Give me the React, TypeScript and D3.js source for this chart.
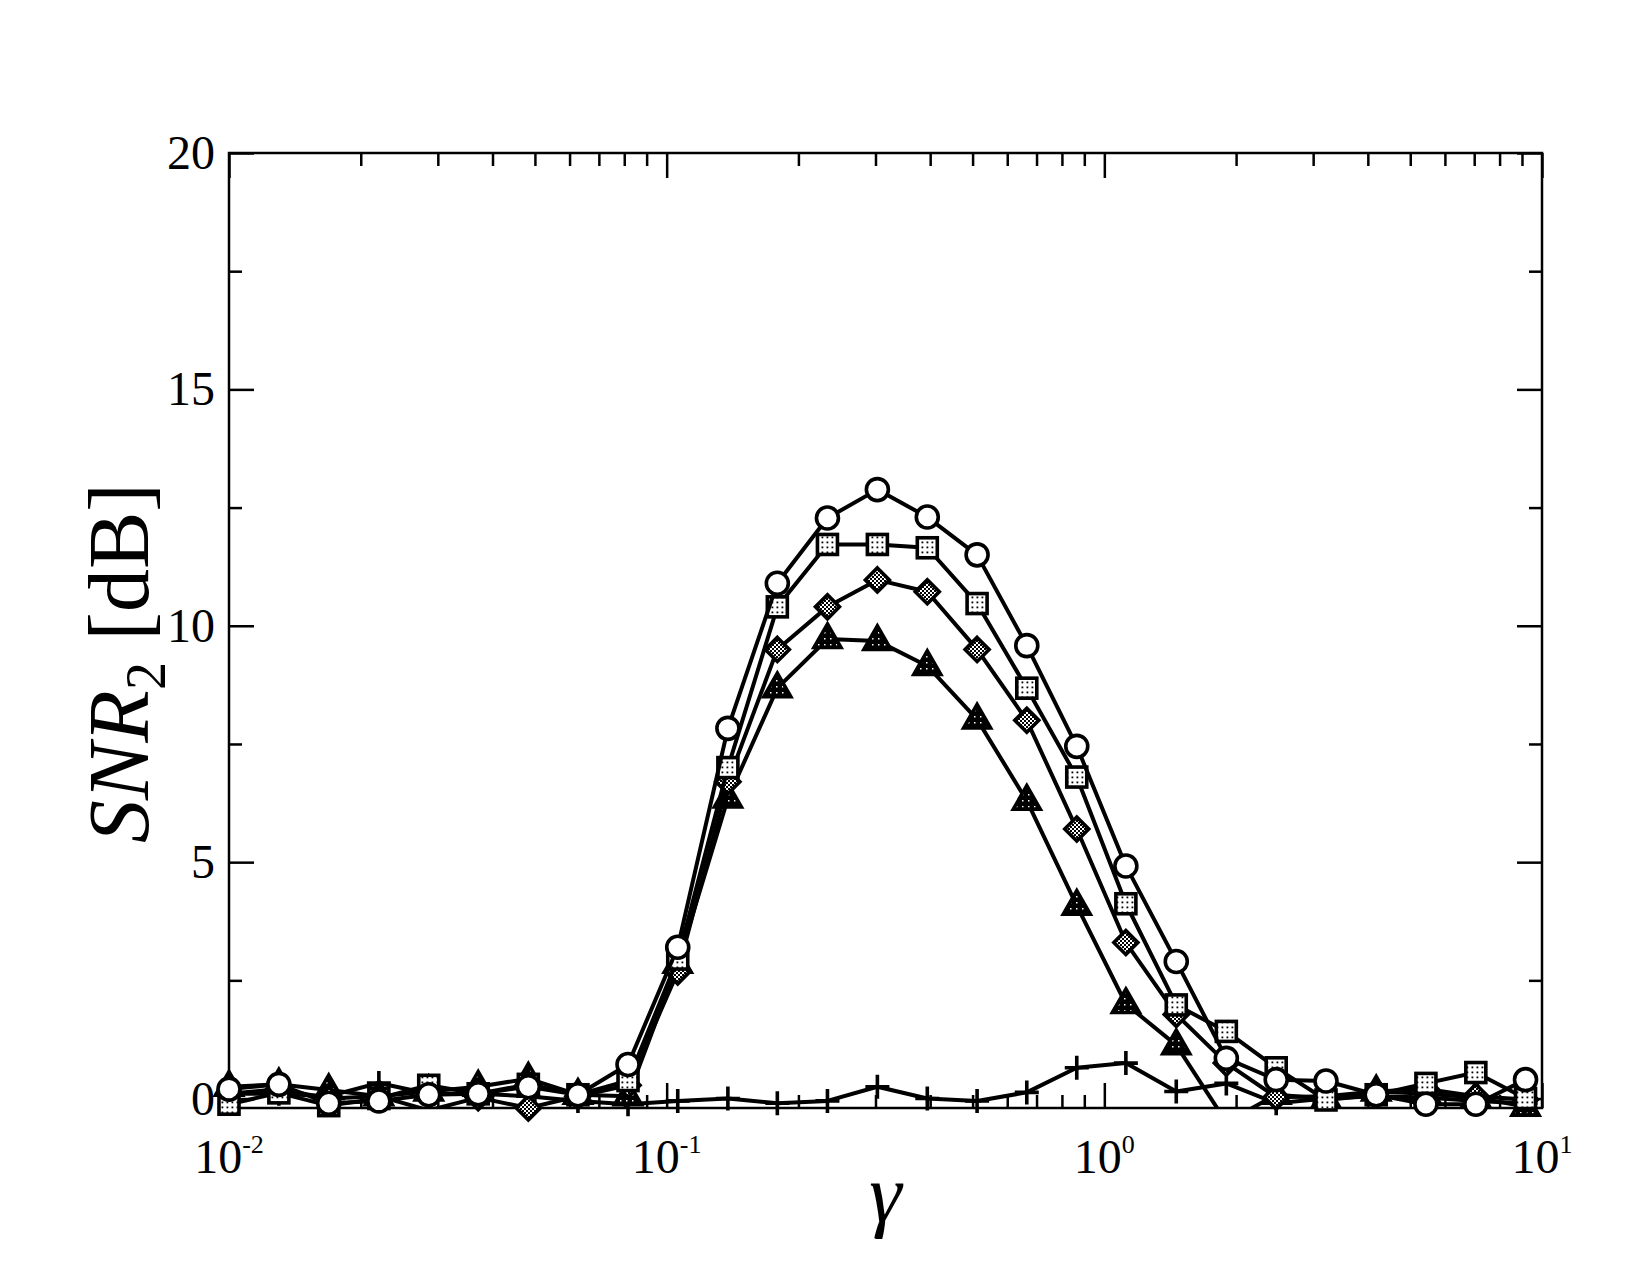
import React, { useRef, useEffect } from "react";
import * as d3 from "d3";

// gamma values on the x axis (log scale)
const gammaVals = [
  0.01, 0.013, 0.0169, 0.022, 0.0286, 0.0371, 0.0483, 0.0627, 0.0816, 0.106,
  0.138, 0.179, 0.233, 0.303, 0.394, 0.512, 0.665, 0.865, 1.12, 1.46, 1.9,
  2.47, 3.21, 4.18, 5.43, 7.06, 9.17,
];

// SNR_2 in dB, one array per curve
const circleVals = [
  0.2, 0.3, -0.1, -0.05, 0.08, 0.1, 0.25, 0.08, 0.72, 3.2, 7.83, 10.9, 12.28,
  12.88, 12.3, 11.5, 9.58, 7.45, 4.92, 2.9, 0.85, 0.4, 0.37, 0.08, -0.12,
  -0.12, 0.4,
];
const squareVals = [
  -0.12, 0.12, -0.15, 0.0, 0.28, 0.1, 0.3, 0.08, 0.38, 2.95, 7.0, 10.4, 11.72,
  11.72, 11.65, 10.47, 8.68, 6.8, 4.12, 1.98, 1.42, 0.65, -0.03, 0.08, 0.32,
  0.55, 0.0,
];
const diamondVals = [
  0.1, 0.2, 0.0, 0.05, -0.25, 0.02, -0.2, 0.05, 0.28, 2.68, 6.7, 9.5, 10.4,
  10.97, 10.72, 9.5, 8.0, 5.7, 3.3, 1.78, 0.75, 0.03, 0.05, 0.15, 0.2, 0.05,
  -0.02,
];
const triangleVals = [
  0.25, 0.3, 0.18, 0.05, 0.15, 0.25, 0.42, 0.08, 0.05, 2.85, 6.35, 8.68, 9.72,
  9.68, 9.15, 8.02, 6.3, 4.08, 2.0, 1.13, -0.5, 0.08, 0.0, 0.15, 0.1, 0.02,
  -0.17,
];
const plusVals = [
  0.1, 0.1, 0.05, 0.33, 0.1, 0.1, 0.05, -0.05, -0.12, -0.05, 0.0, -0.1, -0.05,
  0.25, 0.0, -0.05, 0.13, 0.65, 0.75, 0.15, 0.32, -0.1, 0.0, 0.05, 0.02, -0.05,
  -0.1,
];

const yTicks = [0, 5, 10, 15, 20];
const yMinor = [2.5, 7.5, 12.5, 17.5];
const xMajor = [0.01, 0.1, 1, 10];
const xExponents = ["-2", "-1", "0", "1"];

const W = 1650;
const H = 1275;
const margin = { left: 229, right: 108, top: 153, bottom: 167 };
const FONT = "'Liberation Serif', 'Times New Roman', serif";

const App: React.FC = () => {
  const ref = useRef<SVGSVGElement | null>(null);

  useEffect(() => {
    const svg = d3.select(ref.current);
    svg.selectAll("*").remove();

    const x0 = margin.left;
    const x1 = W - margin.right;
    const y0 = margin.top;
    const y1 = H - margin.bottom;

    const x = d3.scaleLog().domain([0.01, 10]).range([x0, x1]);
    const y = d3.scaleLinear().domain([-0.2, 20]).range([y1, y0]);

    const defs = svg.append("defs");
    defs
      .append("clipPath")
      .attr("id", "plotclip")
      .append("rect")
      .attr("x", x0)
      .attr("y", y0)
      .attr("width", x1 - x0)
      .attr("height", y1 - y0);

    // fill patterns for the symbols
    const pDots = defs
      .append("pattern")
      .attr("id", "pDots")
      .attr("patternUnits", "userSpaceOnUse")
      .attr("width", 5)
      .attr("height", 5);
    pDots.append("rect").attr("width", 5).attr("height", 5).attr("fill", "#fff");
    pDots.append("rect").attr("x", 1.5).attr("y", 1.5).attr("width", 1.8).attr("height", 1.8).attr("fill", "#000");

    const pCheck = defs
      .append("pattern")
      .attr("id", "pCheck")
      .attr("patternUnits", "userSpaceOnUse")
      .attr("width", 4)
      .attr("height", 4);
    pCheck.append("rect").attr("width", 4).attr("height", 4).attr("fill", "#fff");
    pCheck.append("rect").attr("width", 2).attr("height", 2).attr("fill", "#000");
    pCheck.append("rect").attr("x", 2).attr("y", 2).attr("width", 2).attr("height", 2).attr("fill", "#000");

    const pDark = defs
      .append("pattern")
      .attr("id", "pDark")
      .attr("patternUnits", "userSpaceOnUse")
      .attr("width", 6)
      .attr("height", 6);
    pDark.append("rect").attr("width", 6).attr("height", 6).attr("fill", "#000");
    pDark.append("rect").attr("x", 2).attr("y", 2).attr("width", 1.5).attr("height", 1.5).attr("fill", "#fff");

    svg.append("rect").attr("width", W).attr("height", H).attr("fill", "#fff");

    // axes: ticks pointing inward on all four sides
    const xMinor: number[] = [];
    [0.01, 0.1, 1].forEach((d) => {
      for (let k = 2; k <= 9; k++) xMinor.push(d * k);
    });

    const axisStyle = (g: d3.Selection<SVGGElement, unknown, null, undefined>) => {
      g.select(".domain").remove();
      g.selectAll(".tick line").attr("stroke", "#000").attr("stroke-width", 2.5);
      g.selectAll(".tick text").remove();
    };

    svg.append("g").attr("transform", `translate(0,${y1})`)
      .call(d3.axisBottom(x).tickValues(xMajor).tickSize(-25)).call(axisStyle);
    svg.append("g").attr("transform", `translate(0,${y1})`)
      .call(d3.axisBottom(x).tickValues(xMinor).tickSize(-13)).call(axisStyle);
    svg.append("g").attr("transform", `translate(0,${y0})`)
      .call(d3.axisTop(x).tickValues(xMajor).tickSize(-25)).call(axisStyle);
    svg.append("g").attr("transform", `translate(0,${y0})`)
      .call(d3.axisTop(x).tickValues(xMinor).tickSize(-13)).call(axisStyle);
    svg.append("g").attr("transform", `translate(${x0},0)`)
      .call(d3.axisLeft(y).tickValues(yTicks).tickSize(-25)).call(axisStyle);
    svg.append("g").attr("transform", `translate(${x0},0)`)
      .call(d3.axisLeft(y).tickValues(yMinor).tickSize(-13)).call(axisStyle);
    svg.append("g").attr("transform", `translate(${x1},0)`)
      .call(d3.axisRight(y).tickValues(yTicks).tickSize(-25)).call(axisStyle);
    svg.append("g").attr("transform", `translate(${x1},0)`)
      .call(d3.axisRight(y).tickValues(yMinor).tickSize(-13)).call(axisStyle);

    svg
      .append("rect")
      .attr("x", x0)
      .attr("y", y0)
      .attr("width", x1 - x0)
      .attr("height", y1 - y0)
      .attr("fill", "none")
      .attr("stroke", "#000")
      .attr("stroke-width", 2.5);

    // tick labels
    svg
      .append("g")
      .selectAll("text")
      .data(yTicks)
      .enter()
      .append("text")
      .attr("x", x0 - 14)
      .attr("y", (d) => y(d) + 16)
      .attr("text-anchor", "end")
      .attr("font-family", FONT)
      .attr("font-size", 48)
      .text((d) => d);

    const xl = svg
      .append("g")
      .selectAll("text")
      .data(xMajor)
      .enter()
      .append("text")
      .attr("x", (d) => x(d))
      .attr("y", y1 + 65)
      .attr("text-anchor", "middle")
      .attr("font-family", FONT)
      .attr("font-size", 48);
    xl.append("tspan").text("10");
    xl.append("tspan")
      .attr("font-size", 26)
      .attr("dy", -20)
      .text((d, i) => xExponents[i]);

    // axis titles
    svg
      .append("text")
      .attr("x", (x0 + x1) / 2)
      .attr("y", 1221)
      .attr("text-anchor", "middle")
      .attr("font-family", FONT)
      .attr("font-style", "italic")
      .attr("font-size", 82)
      .text("γ");

    const yl = svg
      .append("text")
      .attr("transform", "translate(148,663) rotate(-90)")
      .attr("text-anchor", "middle")
      .attr("font-family", FONT)
      .attr("font-size", 86);
    yl.append("tspan").attr("font-style", "italic").text("SNR");
    yl.append("tspan").attr("font-size", 56).attr("dy", 17).text("2");
    yl.append("tspan").attr("dy", -17).text(" [dB]");

    // curves
    const line = d3
      .line<number>()
      .x((d, i) => x(gammaVals[i]))
      .y((d) => y(d));

    const inside = (v: number) => v >= -0.2 && v <= 20;
    const plot = svg.append("g");

    const drawSeries = (vals: number[], kind: string) => {
      plot
        .append("path")
        .attr("clip-path", "url(#plotclip)")
        .attr("d", line(vals))
        .attr("fill", "none")
        .attr("stroke", "#000")
        .attr("stroke-width", 4)
        .attr("stroke-linejoin", "round");

      const pts = vals
        .map((v, i) => ({ cx: x(gammaVals[i]), cy: y(v), v }))
        .filter((p) => inside(p.v));
      const g = plot.append("g").attr("stroke", "#000").attr("stroke-width", 3.6);

      if (kind === "circle") {
        g.selectAll("circle").data(pts).enter().append("circle")
          .attr("cx", (p) => p.cx).attr("cy", (p) => p.cy).attr("r", 11).attr("fill", "#fff");
      } else if (kind === "square") {
        g.selectAll("rect").data(pts).enter().append("rect")
          .attr("x", (p) => p.cx - 10).attr("y", (p) => p.cy - 10)
          .attr("width", 20).attr("height", 20).attr("fill", "url(#pDots)");
      } else if (kind === "diamond") {
        g.selectAll("path").data(pts).enter().append("path")
          .attr("d", (p) => `M${p.cx},${p.cy - 12}L${p.cx + 12},${p.cy}L${p.cx},${p.cy + 12}L${p.cx - 12},${p.cy}Z`)
          .attr("fill", "url(#pCheck)");
      } else if (kind === "triangle") {
        g.selectAll("path").data(pts).enter().append("path")
          .attr("d", (p) => `M${p.cx},${p.cy - 15}L${p.cx + 13.5},${p.cy + 8.5}L${p.cx - 13.5},${p.cy + 8.5}Z`)
          .attr("fill", "url(#pDark)")
          .attr("stroke-linejoin", "miter");
      } else {
        g.selectAll("path").data(pts).enter().append("path")
          .attr("d", (p) => `M${p.cx - 12},${p.cy}H${p.cx + 12}M${p.cx},${p.cy - 12}V${p.cy + 12}`)
          .attr("fill", "none");
      }
    };

    drawSeries(plusVals, "plus");
    drawSeries(triangleVals, "triangle");
    drawSeries(diamondVals, "diamond");
    drawSeries(squareVals, "square");
    drawSeries(circleVals, "circle");
  }, []);

  return (
    <svg
      ref={ref}
      width={W}
      height={H}
      style={{ position: "absolute", left: 0, top: 0 }}
    ></svg>
  );
};

export default App;
